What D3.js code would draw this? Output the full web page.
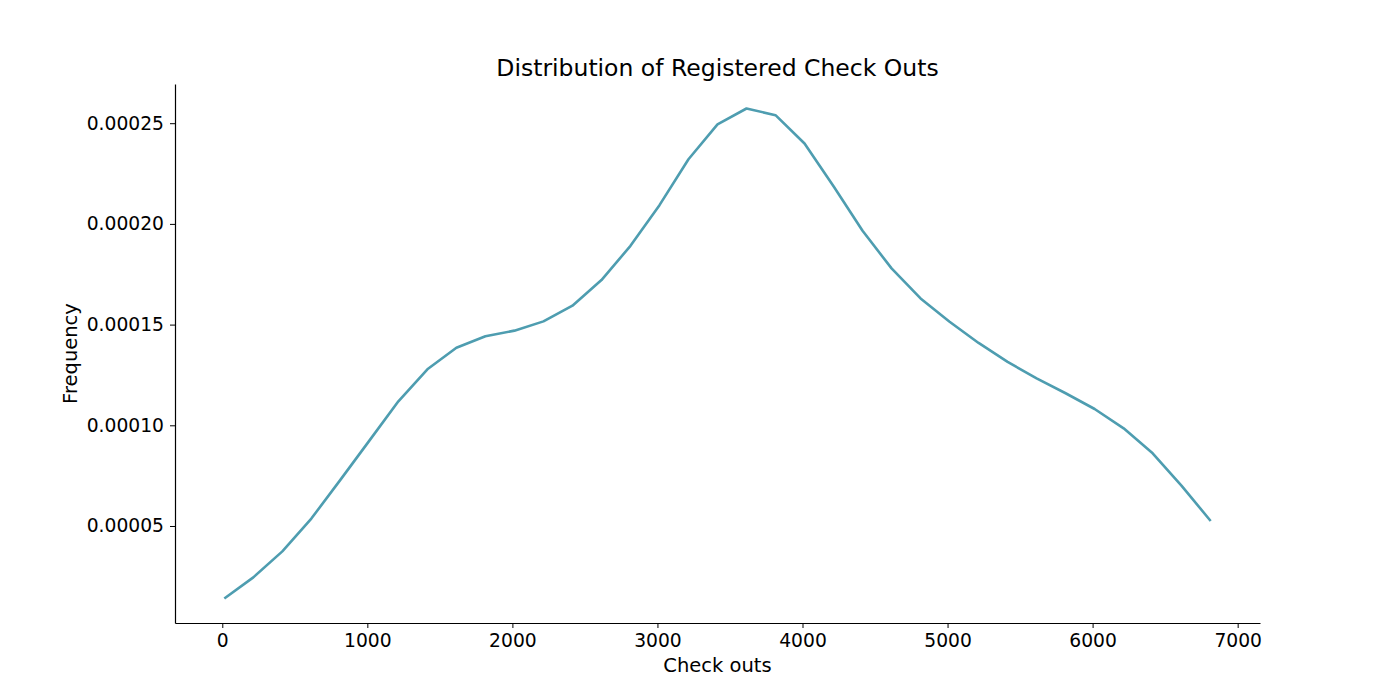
<!DOCTYPE html>
<html>
<head>
<meta charset="utf-8">
<script src="https://cdn.jsdelivr.net/npm/d3@7"></script>
<style>
html,body{margin:0;padding:0;background:#fff;}
svg text{font-family:"DejaVu Sans",sans-serif;fill:#000;}
</style>
</head>
<body>
<svg id="chart" width="1400" height="700"></svg>
<script>
const xValues = [14,214,414,614,814,1014,1214,1414,1614,1814,2014,2214,2414,2614,2814,3014,3214,3414,3614,3814,4014,4214,4414,4614,4814,5014,5214,5414,5614,5814,6014,6214,6414,6614,6814];
const frequency = [0.0000140,0.0000245,0.0000374,0.0000537,0.0000729,0.0000924,0.0001119,0.0001278,0.0001385,0.0001442,0.0001470,0.0001516,0.0001594,0.0001721,0.0001891,0.0002093,0.0002321,0.0002494,0.0002573,0.0002540,0.0002399,0.0002187,0.0001966,0.0001779,0.0001630,0.0001514,0.0001409,0.0001315,0.0001233,0.0001159,0.0001081,0.0000985,0.0000861,0.0000699,0.0000525];
const xTicks = [0,1000,2000,3000,4000,5000,6000,7000];
const yTicks = [0.00005,0.00010,0.00015,0.00020,0.00025];
const yTickLabels = ["0.00005","0.00010","0.00015","0.00020","0.00025"];

const svg = d3.select("#chart");
const L = 175, R = 1260, T = 84, B = 623;

const xMin = d3.min(xValues), xMax = d3.max(xValues);
const xPad = (xMax - xMin) * 0.05;
const yMin = d3.min(frequency), yMax = d3.max(frequency);
const yPad = (yMax - yMin) * 0.05;

const x = d3.scaleLinear().domain([xMin - xPad, xMax + xPad]).range([L, R]);
const y = d3.scaleLinear().domain([yMin - yPad, yMax + yPad]).range([B, T]);

const xAxis = svg.append("g").attr("transform", `translate(0,${B})`)
  .call(d3.axisBottom(x).tickValues(xTicks).tickFormat(d3.format("d")).tickSize(5).tickPadding(6).tickSizeOuter(0));
const yAxis = svg.append("g").attr("transform", `translate(${L},0)`)
  .call(d3.axisLeft(y).tickValues(yTicks).tickFormat((d,i)=>yTickLabels[i]).tickSize(5).tickPadding(6).tickSizeOuter(0));

[xAxis, yAxis].forEach(g => {
  g.selectAll("text").style("font-size", "18.7px").style("font-family", "DejaVu Sans");
  g.selectAll("line").attr("stroke", "#000").attr("stroke-width", 1);
  g.select(".domain").attr("stroke", "#000").attr("stroke-width", 1.2);
});

const line = d3.line().x((d,i)=>x(xValues[i])).y(d=>y(d));
svg.append("path").datum(frequency)
  .attr("d", line)
  .attr("fill", "none")
  .attr("stroke", "#4e9db0")
  .attr("stroke-width", 2.6)
  .attr("stroke-linejoin", "round");

svg.append("text").attr("x", (L+R)/2).attr("y", 76).attr("text-anchor", "middle")
  .style("font-size", "23.5px").text("Distribution of Registered Check Outs");
svg.append("text").attr("x", (L+R)/2).attr("y", 672).attr("text-anchor", "middle")
  .style("font-size", "19.5px").text("Check outs");
svg.append("text").attr("transform", `translate(77,${(T+B)/2}) rotate(-90)`).attr("text-anchor", "middle")
  .style("font-size", "19.5px").text("Frequency");
</script>
</body>
</html>
